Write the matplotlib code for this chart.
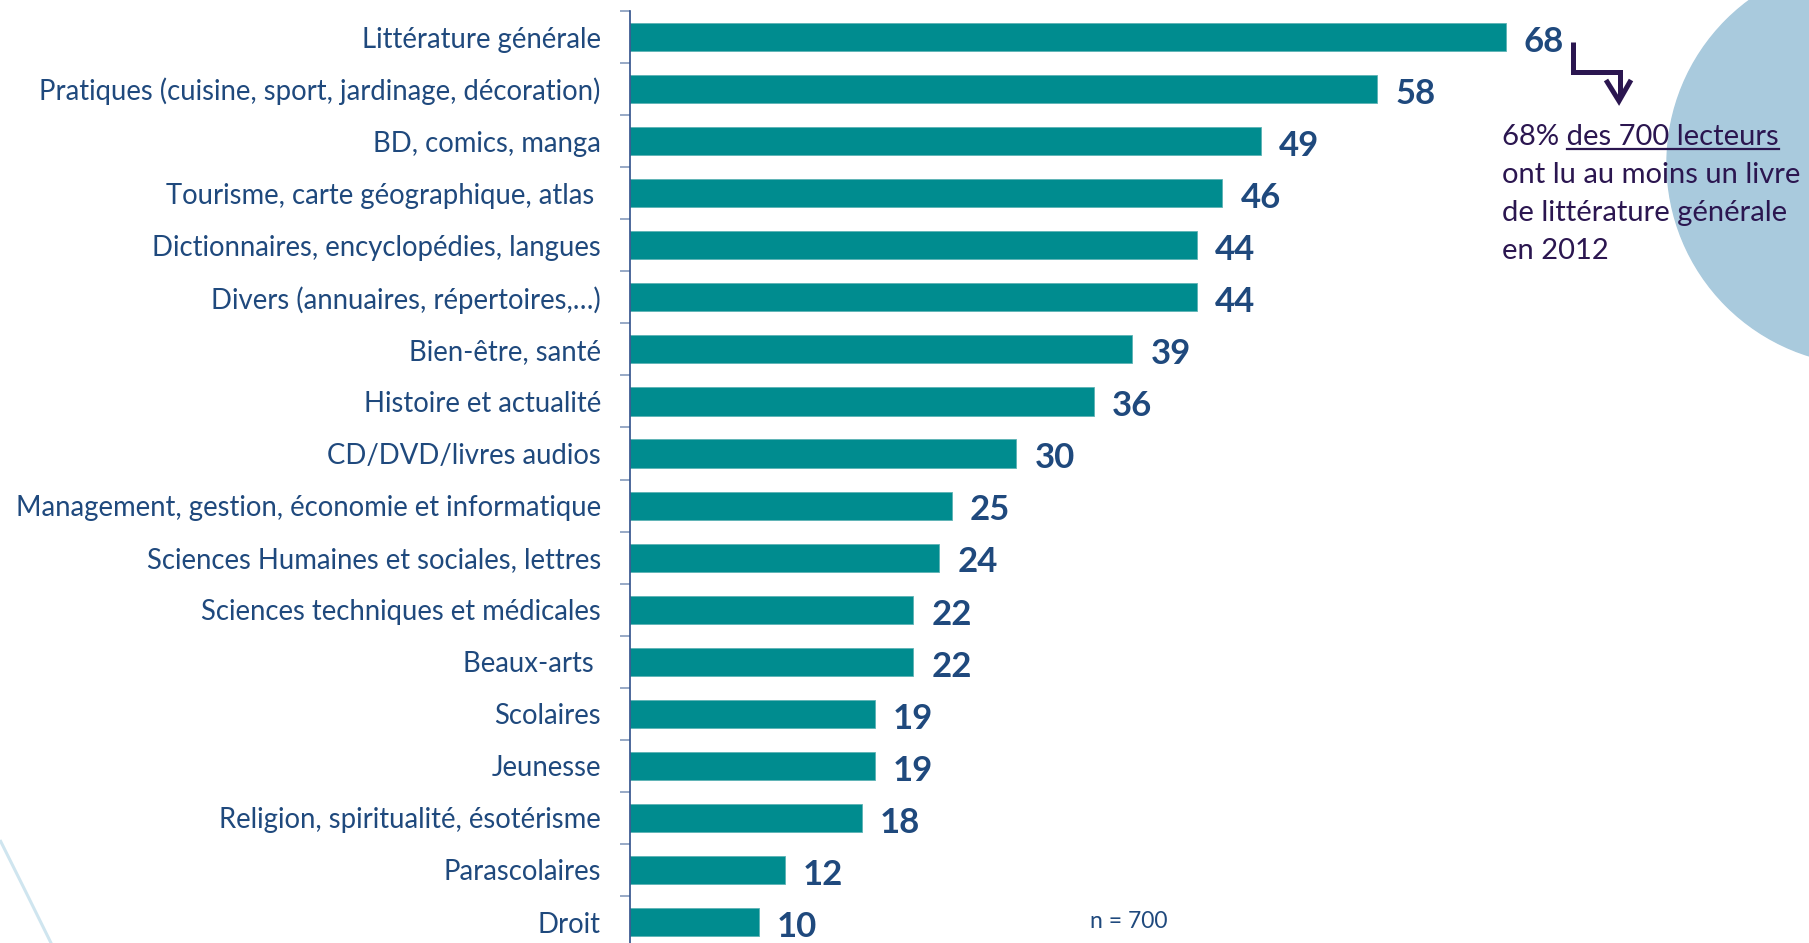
import matplotlib
matplotlib.use("Agg")
import matplotlib.pyplot as plt
from matplotlib.patches import Circle, PathPatch
from matplotlib.path import Path

plt.rcParams['font.family'] = ['Lato', 'DejaVu Sans']

# Données
categories = [
    "Littérature générale",
    "Pratiques (cuisine, sport, jardinage, décoration)",
    "BD, comics, manga",
    "Tourisme, carte géographique, atlas ",
    "Dictionnaires, encyclopédies, langues",
    "Divers (annuaires, répertoires,…)",
    "Bien-être, santé",
    "Histoire et actualité",
    "CD/DVD/livres audios",
    "Management, gestion, économie et informatique",
    "Sciences Humaines et sociales, lettres",
    "Sciences techniques et médicales",
    "Beaux-arts ",
    "Scolaires",
    "Jeunesse",
    "Religion, spiritualité, ésotérisme",
    "Parascolaires",
    "Droit",
]
valeurs = [68, 58, 49, 46, 44, 44, 39, 36, 30, 25, 24, 22, 22, 19, 19, 18, 12, 10]

note_lignes = ["68% des 700 lecteurs", "ont lu au moins un livre",
               "de littérature générale", "en 2012"]
note_souligne = "des 700 lecteurs"
effectif = "n = 700"

# couleurs
c_barre = '#008C8F'
c_texte = '#1F497D'
c_note = '#2B1650'
c_cercle = '#A9CADD'

W, H = 1809, 943
fig = plt.figure(figsize=(W / 100, H / 100), dpi=100)

# calque de fond (coordonnées en pixels)
bg = fig.add_axes([0, 0, 1, 1], zorder=0)
bg.set_xlim(0, W)
bg.set_ylim(H, 0)
bg.axis('off')
bg.add_patch(Circle((1869, 163), 202, color=c_cercle, zorder=1))
courbe = Path([(0, 840), (24, 888), (52, 945)], [Path.MOVETO, Path.CURVE3, Path.CURVE3])
bg.add_patch(PathPatch(courbe, fill=False, edgecolor='#CFE5EF', lw=2.2, zorder=1))

# graphique principal
x0, top = 630, 11
scale = 12.88
xmax = (W - x0) / scale
ax_h = 52.06 * len(categories)
ax = fig.add_axes([x0 / W, 1 - (top + ax_h) / H, (W - x0) / W, ax_h / H], zorder=1)
ax.patch.set_alpha(0)

pos = list(range(len(categories)))
ax.barh(pos, valeurs, height=0.54, color=c_barre, edgecolor='#5DB3B5', linewidth=0.6)
ax.set_xlim(0, xmax)
ax.set_ylim(len(categories) - 0.5, -0.5)

for p, v in zip(pos, valeurs):
    ax.annotate(str(v), (v, p), xytext=(13, -3.5), textcoords='offset points',
                ha='left', va='center', fontsize=25, fontweight='bold', color=c_texte)

ax.set_yticks(pos)
ax.set_yticklabels(categories, fontsize=19.8, color=c_texte)
ax.tick_params(axis='y', which='major', length=0, pad=21)
ax.set_yticks([p - 0.5 for p in pos], minor=True)
ax.tick_params(axis='y', which='minor', length=7, width=1.3, color='#8FA3C2', direction='out')
ax.set_xticks([])
for s in ['top', 'right', 'bottom']:
    ax.spines[s].set_visible(False)
ax.spines['left'].set_color('#2F4F8A')
ax.spines['left'].set_linewidth(1.2)

# flèche coudée
ax_l = dict(color=c_note, lw=3.6, solid_capstyle='butt', solid_joinstyle='miter', zorder=3)
bg.plot([1573, 1573, 1620, 1620], [42, 72, 72, 98], **ax_l)
bg.plot([1606, 1619, 1631], [80, 101, 80], **ax_l)

# note
x_note = 1502
bases = [145, 183, 221, 259]
textes = []
for ligne, yb in zip(note_lignes, bases):
    textes.append(bg.text(x_note, yb, ligne, fontsize=21, color=c_note,
                          ha='left', va='baseline', zorder=4))
fig.canvas.draw()
r = fig.canvas.get_renderer()
bb_full = textes[0].get_window_extent(r)
t_tmp = bg.text(0, 0, note_souligne, fontsize=21)
w_part = t_tmp.get_window_extent(r).width
t_tmp.remove()
bg.plot([bb_full.x1 - w_part, bb_full.x1], [149, 149], color=c_note, lw=1.6, zorder=4)

bg.text(1090, 922, effectif, fontsize=16.5, color=c_texte, ha='left', va='center', zorder=4)

fig.savefig("out.png", dpi=100)
